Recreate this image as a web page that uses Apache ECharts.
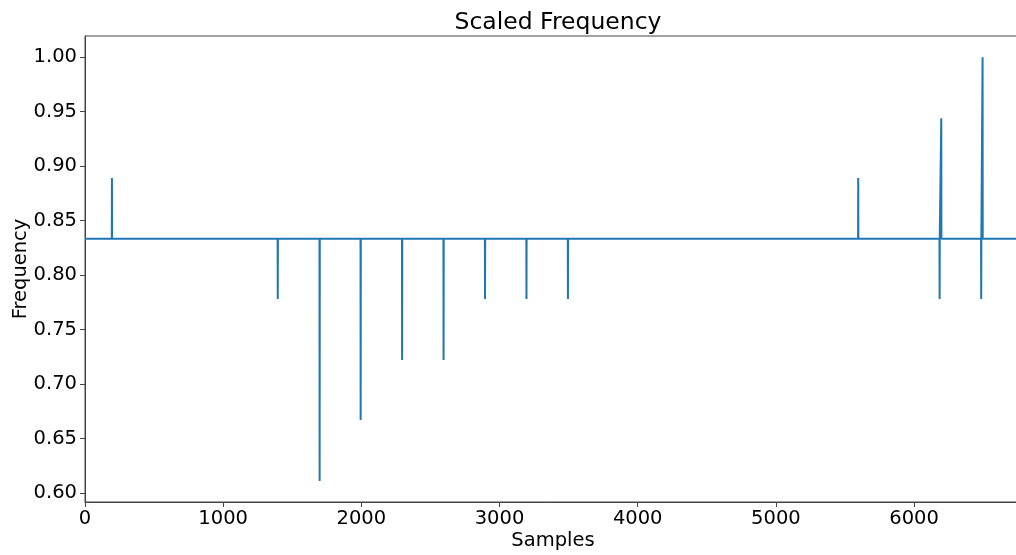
<!DOCTYPE html>
<html>
<head>
<meta charset="utf-8">
<script src="https://cdn.jsdelivr.net/npm/echarts@6/dist/echarts.min.js"></script>
<style>
html,body{margin:0;padding:0;background:#fff;}
#chart{width:1016px;height:555px;}
</style>
</head>
<body>
<div id="chart"></div>
<script>
// Data
var baseline = 0.8333;
var totalSamples = 6774;
var spikeSamples = [195, 1395, 1698, 1995, 2295, 2595, 2895, 3195, 3495, 5596, 6185, 6197, 6486, 6496];
var spikeValues  = [0.889, 0.778, 0.611, 0.667, 0.722, 0.722, 0.778, 0.778, 0.778, 0.889, 0.778, 0.944, 0.778, 1.0];
var xTicks = [0, 1000, 2000, 3000, 4000, 5000, 6000];
var yTicks = [0.60, 0.65, 0.70, 0.75, 0.80, 0.85, 0.90, 0.95, 1.00];

var lineData = [[0, baseline]];
for (var i = 0; i < spikeSamples.length; i++) {
  lineData.push([spikeSamples[i] - 1, baseline]);
  lineData.push([spikeSamples[i], spikeValues[i]]);
  lineData.push([spikeSamples[i] + 1, baseline]);
}
lineData.push([totalSamples, baseline]);

var font = 'DejaVu Sans';
var chart = echarts.init(document.getElementById('chart'), null, {renderer: 'canvas'});
chart.setOption({
  animation: false,
  backgroundColor: '#fff',
  title: {
    text: 'Scaled Frequency',
    left: 553, top: 6, textAlign: 'center',
    textStyle: {fontFamily: font, fontSize: 23.5, fontWeight: 'normal', color: '#000'}
  },
  grid: {left: 85, right: -5, top: 36, bottom: 53, show: true, borderColor: '#444', borderWidth: 1,
         outerBoundsMode: 'none', containLabel: false},
  xAxis: {
    type: 'value', min: 0, max: totalSamples,
    name: 'Samples', nameLocation: 'middle', nameGap: 29, nameMoveOverlap: false,
    nameTextStyle: {fontFamily: font, fontSize: 19.5, color: '#000'},
    axisLine: {show: true, onZero: false, lineStyle: {color: '#444', width: 1}},
    axisTick: {show: true, length: 5, customValues: xTicks, lineStyle: {color: '#444'}},
    axisLabel: {customValues: xTicks, fontFamily: font, fontSize: 19.5, color: '#000', margin: 7,
      formatter: function (v) { return String(v); }},
    splitLine: {show: false}
  },
  yAxis: {
    type: 'value', min: 0.5917, max: 1.0194,
    name: 'Frequency', nameLocation: 'middle', nameGap: 54, nameRotate: 90, nameMoveOverlap: false,
    nameTextStyle: {fontFamily: font, fontSize: 19.5, color: '#000'},
    axisLine: {show: true, onZero: false, lineStyle: {color: '#444', width: 1}},
    axisTick: {show: true, length: 5, customValues: yTicks, lineStyle: {color: '#444'}},
    axisLabel: {customValues: yTicks, fontFamily: font, fontSize: 19.5, color: '#000', margin: 8,
      formatter: function (v) { return v.toFixed(2); }},
    splitLine: {show: false}
  },
  series: [{
    type: 'line',
    data: lineData,
    showSymbol: false,
    symbol: 'none',
    lineStyle: {color: '#1f77b4', width: 2},
    clip: true
  }]
});
</script>
</body>
</html>
